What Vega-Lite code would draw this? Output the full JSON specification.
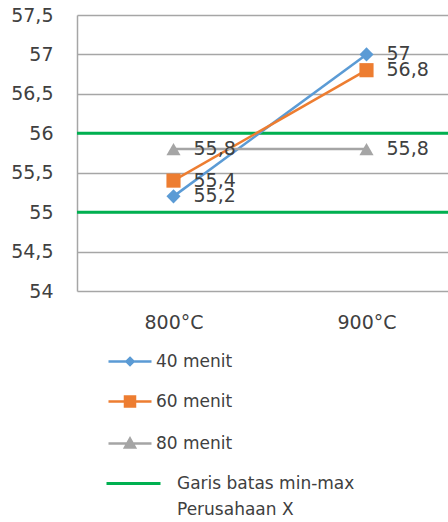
{
  "$schema": "https://vega.github.io/schema/vega-lite/v6.json",
  "width": 386,
  "height": 276,
  "autosize": {"type": "none"},
  "padding": {"left": 77, "top": 15, "right": 0, "bottom": 231},
  "background": "white",
  "config": {
    "locale": {"number": {"decimal": ",", "thousands": ".", "grouping": [3], "currency": ["", ""]}},
    "font": "DejaVu Sans",
    "view": {"stroke": null},
    "axis": {"labelColor": "#404040", "labelFontSize": 19, "title": null}
  },
  "datasets": {
    "series": [
      {"t": "800°C", "s": "40 menit", "v": 55.2},
      {"t": "900°C", "s": "40 menit", "v": 57},
      {"t": "800°C", "s": "60 menit", "v": 55.4},
      {"t": "900°C", "s": "60 menit", "v": 56.8},
      {"t": "800°C", "s": "80 menit", "v": 55.8},
      {"t": "900°C", "s": "80 menit", "v": 55.8}
    ],
    "limits": [
      {"s": "Garis batas min-max Perusahaan X", "v": 55},
      {"s": "Garis batas min-max Perusahaan X", "v": 56}
    ]
  },
  "encoding": {
    "y": {
      "field": "v", "type": "quantitative",
      "scale": {"domain": [54, 57.5], "nice": false, "zero": false},
      "axis": {
        "values": [54, 54.5, 55, 55.5, 56, 56.5, 57, 57.5],
        "format": ".3~g",
        "ticks": false, "tickSize": 0, "labelPadding": 24,
        "grid": true, "gridColor": "#a6a6a6", "gridWidth": 1.5,
        "domain": true, "domainColor": "#a6a6a6", "domainWidth": 1.5
      }
    },
    "color": {
      "field": "s", "type": "nominal",
      "scale": {
        "domain": ["40 menit", "60 menit", "80 menit", "Garis batas min-max Perusahaan X"],
        "range": ["#5B9BD5", "#ED7D31", "#A5A5A5", "#00B050"]
      },
      "legend": {
        "orient": "none", "legendX": 48, "legendY": 338, "title": null, "direction": "vertical",
        "symbolSize": 900, "symbolStrokeWidth": 2.5, "labelFontSize": 17, "labelColor": "#404040",
        "labelFont": "DejaVu Sans",
        "rowPadding": 21, "labelOffset": 14, "labelLimit": 400,
        "labelExpr": "datum.value == 'Garis batas min-max Perusahaan X' ? ['Garis batas min-max', 'Perusahaan X'] : datum.label",
        "encode": {
          "symbols": {
            "update": {
              "shape": {"signal": "datum.value === '40 menit' ? 'M-1.667,0L1.2,0M-0.233,-0.233L0,0L-0.233,0.233L-0.467,0Z' : datum.value === '60 menit' ? 'M-1.667,0L1.2,0M-0.567,-0.333L0.1,-0.333L0.1,0.333L-0.567,0.333Z' : datum.value === '80 menit' ? 'M-1.667,0L1.2,0M-0.233,-0.33L0.1,0.27L-0.567,0.27Z' : 'M-1.8,0L1.8,0'"},
              "fill": {"signal": "scale('color', datum.value)"},
              "stroke": {"signal": "scale('color', datum.value)"},
              "strokeWidth": {"signal": "datum.value === 'Garis batas min-max Perusahaan X' ? 3 : 2.5"},
              "opacity": {"value": 1}
            }
          },
          "labels": {
            "update": {
              "dx": {"signal": "datum.value === 'Garis batas min-max Perusahaan X' ? 21 : 0"},
              "lineHeight": {"value": 26}
            }
          }
        }
      }
    }
  },
  "layer": [
    {
      "data": {"name": "limits"},
      "mark": {"type": "rule", "strokeWidth": 3}
    },
    {
      "data": {"name": "series"},
      "mark": {"type": "line", "strokeWidth": 2.5},
      "encoding": {
        "x": {
          "field": "t", "type": "nominal", "sort": null,
          "scale": {"type": "point", "padding": 0.5},
          "axis": {"labelAngle": 0, "labelPadding": 22, "ticks": false, "tickSize": 0, "domain": false, "grid": false}
        }
      }
    },
    {
      "data": {"name": "series"},
      "mark": {"type": "point", "filled": true, "size": 200, "opacity": 1},
      "encoding": {
        "x": {"field": "t", "type": "nominal", "sort": null},
        "shape": {
          "field": "s", "type": "nominal",
          "scale": {"domain": ["40 menit", "60 menit", "80 menit"], "range": ["diamond", "square", "triangle-up"]},
          "legend": null
        }
      }
    },
    {
      "data": {"name": "series"},
      "mark": {"type": "text", "align": "left", "baseline": "middle", "dx": 20, "fontSize": 19, "color": "#404040"},
      "encoding": {
        "x": {"field": "t", "type": "nominal", "sort": null},
        "text": {"field": "v", "type": "quantitative", "format": ".3~g"},
        "color": {"value": "#404040"}
      }
    }
  ]
}
